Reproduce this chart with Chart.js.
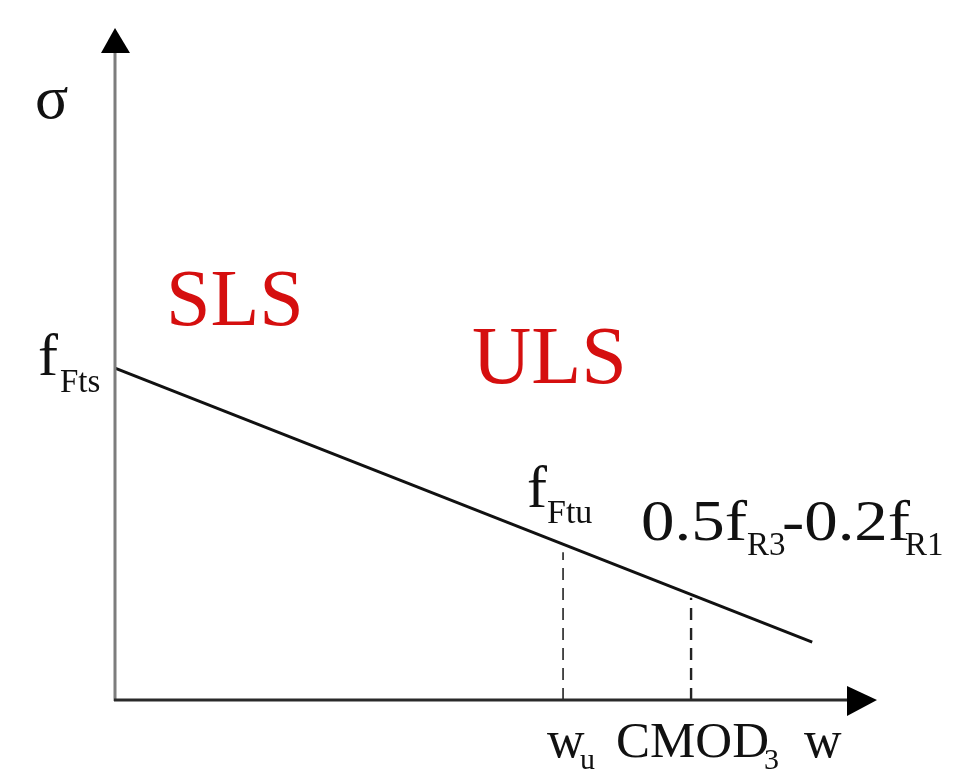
<!DOCTYPE html>
<html lang="en">
<head>
  <meta charset="UTF-8" />
  <title>Stress - crack opening (SLS / ULS)</title>
  <script src="https://cdn.jsdelivr.net/npm/chart.js"></script>
  <style>
    html, body { margin: 0; padding: 0; background: #fff; }
    #wrap { width: 960px; height: 778px; }
  </style>
</head>
<body>
  <div id="wrap"><canvas id="chart" width="960" height="778"></canvas></div>

  <script>
    // linear softening law: sigma vs crack opening w (arbitrary units)
    const wLine = [0, 9.15];
    const sigmaLine = [4.94, 0.86];

    // marked openings and where the dashed guides stop
    const wMarks = [5.88, 7.56];
    const sigmaMarks = [2.2, 1.52];

    const axisMax = 10;

    // text, x/baseline in px, font size, colour
    const labels = [
      { t: 'σ', x: 35, y: 118, s: 62 },
      { t: 'f', x: 38, y: 375, s: 60 }, { t: 'Fts', x: 60, y: 392, s: 33 },
      { t: 'SLS', x: 166, y: 325, s: 80, c: '#d50f0f' },
      { t: 'ULS', x: 472, y: 383, s: 82, c: '#d50f0f' },
      { t: 'f', x: 527, y: 507, s: 60 }, { t: 'Ftu', x: 547, y: 523, s: 34 },
      { t: '0.5f', x: 641, y: 540, s: 56, w: 106 }, { t: 'R3', x: 747, y: 555, s: 33 },
      { t: '-0.2f', x: 782, y: 540, s: 56, w: 128 }, { t: 'R1', x: 905, y: 555, s: 33 },
      { t: 'w', x: 547, y: 757, s: 52 }, { t: 'u', x: 580, y: 769, s: 30 },
      { t: 'CMOD', x: 616, y: 757, s: 51 }, { t: '3', x: 764, y: 769, s: 30 },
      { t: 'w', x: 804, y: 757, s: 52 }
    ];

    const pts = (xs, ys) => xs.map((x, i) => ({ x: x, y: ys[i] }));

    const datasets = [{
      data: pts(wLine, sigmaLine),
      borderColor: '#111',
      borderWidth: 3,
      pointRadius: 0,
      showLine: true
    }];
    wMarks.forEach((w, i) => {
      datasets.push({
        data: pts([w, w], [0, sigmaMarks[i]]),
        borderColor: '#222',
        borderWidth: i === 0 ? 1.6 : 2.4,
        borderDash: [12, 8],
        pointRadius: 0,
        showLine: true
      });
    });

    const axesAndText = {
      id: 'axesAndText',
      afterDatasetsDraw(chart) {
        const ctx = chart.ctx;
        const sx = chart.scales.x, sy = chart.scales.y;
        const x0 = sx.getPixelForValue(0), y0 = sy.getPixelForValue(0);
        const xEnd = sx.getPixelForValue(axisMax), yEnd = sy.getPixelForValue(axisMax);
        ctx.save();
        // y axis
        ctx.strokeStyle = '#7d7d7d';
        ctx.lineWidth = 3;
        ctx.beginPath();
        ctx.moveTo(x0, y0 + 1);
        ctx.lineTo(x0, yEnd + 20);
        ctx.stroke();
        // x axis
        ctx.strokeStyle = '#2a2a2a';
        ctx.beginPath();
        ctx.moveTo(x0 - 1, y0);
        ctx.lineTo(xEnd - 20, y0);
        ctx.stroke();
        // arrow heads
        ctx.fillStyle = '#000';
        ctx.beginPath();
        ctx.moveTo(x0, yEnd);
        ctx.lineTo(x0 - 14, yEnd + 25);
        ctx.lineTo(x0 + 15, yEnd + 25);
        ctx.closePath();
        ctx.fill();
        ctx.beginPath();
        ctx.moveTo(xEnd, y0);
        ctx.lineTo(xEnd - 30, y0 - 14);
        ctx.lineTo(xEnd - 30, y0 + 16);
        ctx.closePath();
        ctx.fill();
        // labels
        ctx.textBaseline = 'alphabetic';
        ctx.textAlign = 'left';
        labels.forEach(l => {
          ctx.font = l.s + 'px "Liberation Serif", "DejaVu Serif", serif';
          ctx.fillStyle = l.c || '#111';
          if (l.w) {
            const m = ctx.measureText(l.t).width;
            ctx.save();
            ctx.translate(l.x, l.y);
            ctx.scale(l.w / m, 1);
            ctx.fillText(l.t, 0, 0);
            ctx.restore();
          } else {
            ctx.fillText(l.t, l.x, l.y);
          }
        });
        ctx.restore();
      }
    };

    new Chart(document.getElementById('chart'), {
      type: 'scatter',
      data: { datasets: datasets },
      options: {
        responsive: false,
        animation: false,
        clip: false,
        layout: {
          autoPadding: false,
          padding: { left: 115, top: 28, right: 83, bottom: 78 }
        },
        plugins: {
          legend: { display: false },
          tooltip: { enabled: false }
        },
        scales: {
          x: { type: 'linear', min: 0, max: axisMax, display: false },
          y: { type: 'linear', min: 0, max: axisMax, display: false }
        }
      },
      plugins: [axesAndText]
    });
  </script>
</body>
</html>
